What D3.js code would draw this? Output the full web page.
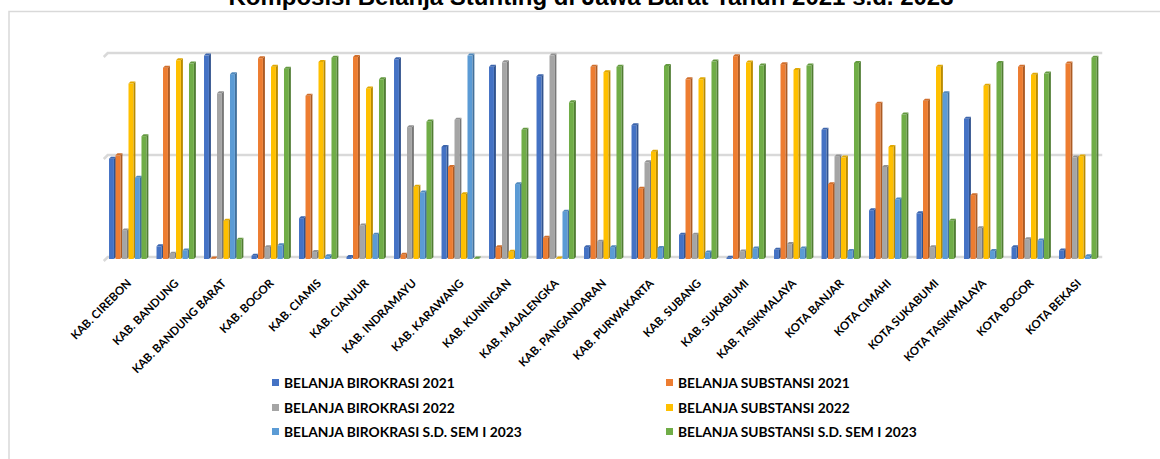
<!DOCTYPE html>
<html>
<head>
<meta charset="utf-8">
<script src="https://cdn.jsdelivr.net/npm/d3@7"></script>
<style>
  html, body { margin: 0; padding: 0; background: #fff; }
  svg { display: block; }
</style>
</head>
<body>
<svg id="chart" width="1160" height="459"></svg>
<script>
// Regions of West Java
const categories = [
  "KAB. CIREBON", "KAB. BANDUNG", "KAB. BANDUNG BARAT", "KAB. BOGOR", "KAB. CIAMIS",
  "KAB. CIANJUR", "KAB. INDRAMAYU", "KAB. KARAWANG", "KAB. KUNINGAN", "KAB. MAJALENGKA",
  "KAB. PANGANDARAN", "KAB. PURWAKARTA", "KAB. SUBANG", "KAB. SUKABUMI", "KAB. TASIKMALAYA",
  "KOTA BANJAR", "KOTA CIMAHI", "KOTA SUKABUMI", "KOTA TASIKMALAYA", "KOTA BOGOR", "KOTA BEKASI"
];

// Share of stunting spending (%), per region
const birokrasi2021 = [49.2, 6.2, 99.7, 1.6, 20.0, 1.0, 97.9, 54.9, 94.2, 89.6, 5.8, 65.6, 11.9, 0.6, 4.5, 63.3, 23.9, 22.4, 68.7, 5.8, 4.2];
const substansi2021 = [50.8, 93.8, 0.3, 98.4, 80.0, 99.0, 2.1, 45.1, 5.8, 10.4, 94.2, 34.4, 88.1, 99.4, 95.5, 36.7, 76.1, 77.6, 31.3, 94.2, 95.8];
const birokrasi2022 = [14.0, 2.6, 81.2, 5.8, 3.4, 16.4, 64.6, 68.2, 96.4, 99.7, 8.4, 47.4, 11.9, 3.7, 7.3, 50.3, 45.1, 5.8, 15.1, 9.7, 49.7];
const substansi2022 = [86.0, 97.4, 18.8, 94.2, 96.6, 83.6, 35.4, 31.8, 3.6, 0.3, 91.6, 52.6, 88.1, 96.3, 92.7, 49.7, 54.9, 94.2, 84.9, 90.3, 50.3];
const birokrasi2023 = [39.8, 4.2, 90.6, 6.7, 1.3, 11.9, 32.6, 99.7, 36.7, 23.2, 5.8, 5.4, 3.2, 5.2, 5.2, 3.9, 29.2, 81.3, 3.9, 9.1, 1.3];
const substansi2023 = [60.2, 95.8, 9.4, 93.3, 98.7, 88.1, 67.4, 0.3, 63.3, 76.8, 94.2, 94.6, 96.8, 94.8, 94.8, 96.1, 70.8, 18.7, 96.1, 90.9, 98.7];

const seriesNames = [
  "BELANJA BIROKRASI 2021", "BELANJA SUBSTANSI 2021",
  "BELANJA BIROKRASI 2022", "BELANJA SUBSTANSI 2022",
  "BELANJA BIROKRASI S.D. SEM I 2023", "BELANJA SUBSTANSI S.D. SEM I 2023"
];
const seriesValues = [birokrasi2021, substansi2021, birokrasi2022, substansi2022, birokrasi2023, substansi2023];
const seriesColors = ["#4472C4", "#ED7D31", "#A5A5A5", "#FFC000", "#5B9BD5", "#70AD47"];
const gridTicks = [0, 50, 100];

const titleText = "Komposisi Belanja Stunting di Jawa Barat Tahun 2021 s.d. 2023";

const svg = d3.select("#chart");

// outer chart frame
svg.append("rect")
  .attr("x", 9).attr("y", 11.5)
  .attr("width", 1200).attr("height", 500)
  .attr("fill", "none").attr("stroke", "#d9d9d9").attr("stroke-width", 1.5);

// title (sits above the frame)
svg.append("text")
  .attr("x", 591).attr("y", 5)
  .attr("text-anchor", "middle")
  .attr("font-family", "Liberation Sans, Arial, sans-serif")
  .attr("font-weight", "bold")
  .attr("font-size", 24)
  .attr("fill", "#000")
  .text(titleText);

// scales
const x0 = d3.scaleBand().domain(categories).range([104.75, 1102.25]).paddingInner(0.18).paddingOuter(0.09);
const x1 = d3.scaleBand().domain(d3.range(seriesNames.length)).range([0, x0.bandwidth()]);
const y = d3.scaleLinear().domain([0, 100]).range([259, 55]);

const depth = 2;

// back-wall gridlines with a short perspective return on the left
const grid = svg.append("g").attr("class", "grid");
grid.selectAll("path")
  .data(gridTicks)
  .join("path")
  .attr("d", t => {
    const gy = y(t) - depth;
    return `M${x0.range()[0] - 1},${gy + 4} L${x0.range()[0] + 3},${gy} L${x0.range()[1]},${gy}`;
  })
  .attr("fill", "none")
  .attr("stroke", "#d9d9d9")
  .attr("stroke-width", 2.5);

// bars drawn as 3-D columns: front face, right side face and top cap
const barW = x1.bandwidth() - depth + 0.4;
const groups = svg.append("g").selectAll("g")
  .data(categories)
  .join("g")
  .attr("transform", d => `translate(${x0(d)},0)`);

groups.each(function (cat, ci) {
  const g = d3.select(this);
  seriesValues.forEach((vals, si) => {
    const v = vals[ci];
    const bx = x1(si);
    const top = y(v);
    const bottom = y(0);
    const c = d3.color(seriesColors[si]);
    // side face
    g.append("path")
      .attr("d", `M${bx + barW},${bottom} L${bx + barW + depth},${bottom - depth} L${bx + barW + depth},${top - depth} L${bx + barW},${top} Z`)
      .attr("fill", c.darker(0.9));
    // front face
    g.append("rect")
      .attr("x", bx).attr("y", top)
      .attr("width", barW).attr("height", Math.max(0, bottom - top))
      .attr("fill", c);
    // top cap
    g.append("path")
      .attr("d", `M${bx},${top} L${bx + depth},${top - depth} L${bx + barW + depth},${top - depth} L${bx + barW},${top} Z`)
      .attr("fill", c.darker(0.35));
  });
});

// category axis with rotated labels
const xAxis = d3.axisBottom(x0).tickSize(0).tickPadding(0);
const axisG = svg.append("g")
  .attr("transform", "translate(0,284)")
  .call(xAxis);
axisG.select(".domain").remove();
axisG.selectAll("text")
  .attr("font-family", "Lato, Open Sans, sans-serif")
  .attr("font-weight", "bold")
  .attr("font-size", 11.5)
  .attr("fill", "#000")
  .attr("dy", 0)
  .attr("y", 0)
  .attr("text-anchor", "end")
  .attr("transform", "translate(3.5,0) rotate(-45)");

// legend: two columns, three rows
const legendCols = [272, 666];
const legendRows = [383, 408, 432];
const legend = svg.append("g")
  .selectAll("g")
  .data(seriesNames)
  .join("g")
  .attr("transform", (d, i) => `translate(${legendCols[i % 2]},${legendRows[Math.floor(i / 2)]})`);
legend.append("rect")
  .attr("x", 0).attr("y", -4)
  .attr("width", 7).attr("height", 7)
  .attr("fill", (d, i) => seriesColors[i]);
legend.append("text")
  .attr("x", 12).attr("y", 0)
  .attr("dy", "0.35em")
  .attr("font-family", "Lato, Open Sans, sans-serif")
  .attr("font-weight", "bold")
  .attr("font-size", 13.8)
  .attr("fill", "#000")
  .text(d => d);
</script>
</body>
</html>
